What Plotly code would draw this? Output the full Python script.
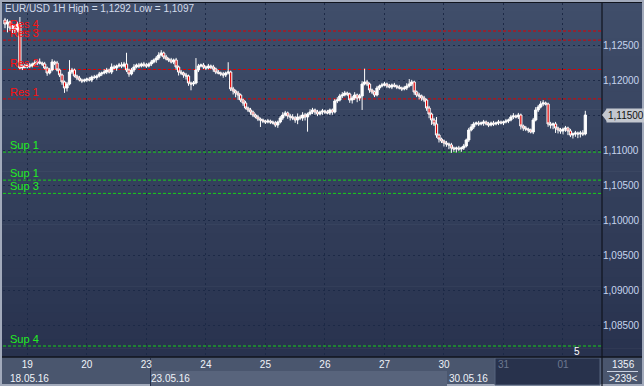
import plotly.graph_objects as go

# ---------------- data ----------------
title_text = "EUR/USD 1H High = 1,1292 Low = 1,1097"

day_ticks = [9, 33, 57, 81, 105, 129, 153, 177, 201, 225]
day_labels = ["19", "20", "23", "24", "25", "26", "27", "30", "31", "01"]
future_days = ["31", "01"]

week_labels = ["18.05.16", "23.05.16", "30.05.16"]
week_start_bars = [0, 57, 177]

price_ticks = [1.085, 1.090, 1.095, 1.100, 1.105, 1.110, 1.115, 1.120, 1.125]

first_open = 1.12857

closes = [
    # 18.05 (15:00-23:00)
    1.12800, 1.12829, 1.12743, 1.12771, 1.12714, 1.12800, 1.12172, 1.12200, 1.12186,
    # 19.05
    1.12214, 1.12200, 1.12229, 1.12243, 1.12257, 1.12243, 1.12229, 1.12172, 1.12100, 1.12143, 1.12257, 1.12243,
    1.12143, 1.12072, 1.11972, 1.11886, 1.11943, 1.12114, 1.12143, 1.12057, 1.12029, 1.12000, 1.11986, 1.12000,
    # 20.05
    1.12014, 1.12000, 1.12043, 1.12036, 1.12057, 1.12086, 1.12100, 1.12114, 1.12143, 1.12114, 1.12186, 1.12172,
    1.12200, 1.12214, 1.12200, 1.12229, 1.12143, 1.12086, 1.12143, 1.12186, 1.12214, 1.12200, 1.12229, 1.12214,
    # 23.05
    1.12200, 1.12229, 1.12257, 1.12286, 1.12314, 1.12357, 1.12386, 1.12329, 1.12300, 1.12286, 1.12257, 1.12286,
    1.12186, 1.12114, 1.12100, 1.12072, 1.12057, 1.11957, 1.11943, 1.11957, 1.12143, 1.12200, 1.12214, 1.12186,
    # 24.05
    1.12172, 1.12200, 1.12186, 1.12157, 1.12114, 1.12100, 1.12086, 1.12072, 1.12100, 1.12114, 1.11872, 1.11843,
    1.11814, 1.11786, 1.11714, 1.11672, 1.11600, 1.11572, 1.11543, 1.11500, 1.11472, 1.11443, 1.11429, 1.11414,
    # 25.05
    1.11400, 1.11414, 1.11400, 1.11386, 1.11357, 1.11400, 1.11457, 1.11500, 1.11529, 1.11486, 1.11472, 1.11457,
    1.11429, 1.11472, 1.11457, 1.11500, 1.11472, 1.11514, 1.11543, 1.11572, 1.11543, 1.11514, 1.11543, 1.11557,
    # 26.05
    1.11543, 1.11529, 1.11572, 1.11543, 1.11700, 1.11714, 1.11772, 1.11786, 1.11814, 1.11800, 1.11714, 1.11743,
    1.11786, 1.11743, 1.11772, 1.11943, 1.11972, 1.11943, 1.11857, 1.11829, 1.11786, 1.11886, 1.11914, 1.11929,
    # 27.05
    1.11943, 1.11914, 1.11900, 1.11929, 1.11914, 1.11900, 1.11886, 1.11872, 1.11886, 1.11914, 1.11943, 1.11972,
    1.11829, 1.11786, 1.11772, 1.11743, 1.11714, 1.11600, 1.11514, 1.11429, 1.11372, 1.11214, 1.11157, 1.11129,
    # 30.05
    1.11100, 1.11086, 1.11072, 1.11029, 1.11014, 1.11029, 1.11014, 1.11029, 1.11057, 1.11143, 1.11286, 1.11329,
    1.11372, 1.11386, 1.11372, 1.11386, 1.11400, 1.11372, 1.11357, 1.11386, 1.11372, 1.11386, 1.11400, 1.11386,
    # 31.05
    1.11400, 1.11414, 1.11429, 1.11472, 1.11486, 1.11472, 1.11500, 1.11343, 1.11314, 1.11300, 1.11286, 1.11257,
    1.11429, 1.11572, 1.11614, 1.11657, 1.11672, 1.11657, 1.11372, 1.11357, 1.11372, 1.11314, 1.11286, 1.11272,
    # 01.06 (00:00-09:00)
    1.11300, 1.11314, 1.11272, 1.11214, 1.11229, 1.11243, 1.11229, 1.11243, 1.11229, 1.11500,
]

# wick lengths beyond the candle body, in pips (0.0001)
upper_wick = [
    3, 4, 2, 3, 2, 3, 10, 2, 3,
    2, 3, 2, 4, 3, 5, 2, 3, 2, 3, 4, 2, 3, 2, 2, 2, 3, 17, 3, 2, 2, 3, 2, 2,
    2, 3, 2, 3, 2, 3, 2, 4, 3, 2, 5, 3, 2, 3, 4, 3, 16, 2, 3, 4, 2, 3, 2, 3,
    3, 2, 3, 2, 3, 4, 4, 2, 3, 2, 3, 2, 3, 2, 3, 2, 3, 2, 2, 3, 17, 3, 2, 3,
    2, 3, 2, 3, 2, 3, 2, 3, 2, 14, 2, 3, 2, 3, 2, 2, 3, 2, 3, 2, 2, 3, 2, 2,
    2, 3, 2, 2, 3, 2, 3, 4, 3, 2, 3, 4, 3, 5, 3, 4, 3, 2, 4, 3, 2, 3, 2, 3,
    2, 3, 2, 2, 3, 4, 3, 4, 3, 2, 2, 3, 4, 2, 3, 4, 19, 3, 2, 2, 2, 3, 2, 3,
    3, 2, 3, 2, 3, 2, 3, 2, 3, 4, 7, 3, 2, 2, 3, 2, 3, 2, 3, 2, 3, 10, 2, 2,
    2, 3, 2, 3, 2, 2, 3, 2, 3, 2, 3, 4, 3, 2, 3, 2, 3, 2, 3, 2, 3, 2, 3, 2,
    2, 3, 2, 3, 4, 2, 3, 2, 2, 3, 2, 2, 3, 4, 3, 4, 4, 2, 2, 3, 2, 3, 2, 3,
    2, 3, 2, 3, 2, 3, 2, 3, 4, 6,
]
lower_wick = [
    6, 12, 4, 8, 5, 3, 2, 3, 2,
    2, 3, 2, 2, 3, 2, 3, 2, 4, 2, 2, 3, 2, 3, 4, 7, 5, 2, 3, 2, 3, 2, 3, 2,
    3, 2, 3, 2, 3, 2, 3, 2, 3, 2, 3, 2, 4, 2, 3, 2, 3, 4, 2, 3, 2, 3, 2, 3,
    3, 2, 3, 2, 4, 3, 2, 3, 2, 3, 2, 3, 4, 5, 3, 4, 5, 4, 9, 3, 2, 3, 2, 3,
    3, 2, 3, 4, 3, 2, 3, 4, 3, 2, 3, 5, 6, 7, 3, 4, 2, 3, 4, 3, 2, 3, 10, 3,
    3, 2, 3, 2, 3, 4, 2, 3, 2, 4, 5, 3, 4, 6, 3, 4, 5, 21, 2, 3, 4, 3, 2, 4,
    3, 2, 3, 4, 2, 3, 2, 3, 2, 3, 4, 5, 3, 6, 4, 20, 2, 3, 4, 3, 3, 2, 3, 2,
    2, 3, 2, 3, 2, 3, 2, 3, 2, 3, 2, 3, 4, 3, 5, 4, 3, 4, 6, 7, 3, 4, 5, 3,
    5, 4, 6, 7, 4, 5, 3, 4, 3, 2, 3, 2, 3, 2, 3, 2, 4, 2, 3, 2, 3, 2, 3, 2,
    3, 2, 3, 2, 3, 2, 3, 5, 4, 3, 4, 2, 3, 2, 3, 2, 3, 2, 4, 5, 6, 7, 5, 4,
    5, 4, 6, 3, 5, 4, 6, 5, 3, 2,
]

level_names = ["Res 4", "Res 3", "Res 2", "Res 1", "Sup 1", "Sup 1", "Sup 3", "Sup 4"]
level_values = [1.1270, 1.1257, 1.1215, 1.1173, 1.1097, 1.1057, 1.1038, 1.0820]

corner_top = "1356"
corner_bottom = ">239<"
count_label = "5"

# ---------------- derived ----------------
n = len(closes)
assert len(upper_wick) == n and len(lower_wick) == n
bars = list(range(n))
opens = [first_open] + closes[:-1]
highs = [max(o, c) + u * 1e-4 for o, c, u in zip(opens, closes, upper_wick)]
lows = [min(o, c) - d * 1e-4 for o, c, d in zip(opens, closes, lower_wick)]


def fmt_price(v):
    return ("%.5f" % v).replace(".", ",")


last_text = fmt_price(closes[-1])
# the last-price tag replaces the axis label at the same level
price_ticktext = ["" if fmt_price(v) == last_text else fmt_price(v) for v in price_ticks]

# ---------------- geometry helpers ----------------
W, H = 644, 386
L, R, T, B = 3, 42, 3, 29
PW = W - L - R
PH = H - T - B


def fx(xpix):
    return (xpix - L) / PW


def fy(ypix):
    return (H - B - ypix) / PH


FONT = "Liberation Sans, Arial"

shapes = []
# vertical gradient background (plot + right axis panel)
top_rgb = (64, 78, 106)
bot_rgb = (40, 50, 78)
nb = 40
for k in range(nb):
    y0 = T + k * PH / nb
    y1 = T + (k + 1) * PH / nb
    t = (k + 0.5) / nb
    col = "rgb(%d,%d,%d)" % tuple(round(a + (b - a) * t) for a, b in zip(top_rgb, bot_rgb))
    shapes.append(dict(type="rect", xref="paper", yref="paper", x0=fx(2), x1=fx(642),
                       y0=fy(y1 + 0.6), y1=fy(y0), fillcolor=col, line_width=0, layer="below"))

# x-axis band
shapes.append(dict(type="rect", xref="paper", yref="paper", x0=fx(2), x1=fx(642),
                   y0=fy(384), y1=fy(357), fillcolor="#4a566e", line_width=0, layer="below"))
shapes.append(dict(type="rect", xref="paper", yref="paper", x0=fx(151), x1=fx(447),
                   y0=fy(386), y1=fy(371), fillcolor="#58647c", line_width=0, layer="below"))
shapes.append(dict(type="rect", xref="paper", yref="paper", x0=fx(495), x1=fx(600),
                   y0=fy(385), y1=fy(358), fillcolor="#28324c",
                   line=dict(color="#55627c", width=1), layer="below"))
shapes.append(dict(type="line", xref="paper", yref="paper", x0=fx(150.5), x1=fx(150.5),
                   y0=fy(386), y1=fy(358), line=dict(color="#26304a", width=1), layer="below"))
# borders
shapes.append(dict(type="line", xref="paper", yref="paper", x0=fx(2), x1=fx(642),
                   y0=fy(2.5), y1=fy(2.5), line=dict(color="#10141e", width=1)))
shapes.append(dict(type="line", xref="paper", yref="paper", x0=fx(2), x1=fx(642),
                   y0=fy(357), y1=fy(357), line=dict(color="#10141e", width=1.5)))
shapes.append(dict(type="line", xref="paper", yref="paper", x0=fx(602), x1=fx(602),
                   y0=fy(386), y1=fy(2.5), line=dict(color="#10141e", width=1.2)))
shapes.append(dict(type="line", xref="paper", yref="paper", x0=fx(607), x1=fx(638),
                   y0=fy(371.5), y1=fy(371.5), line=dict(color="#c8d0e0", width=1)))

annotations = []
# support / resistance levels
for name, val in zip(level_names, level_values):
    is_res = name.startswith("Res")
    col = "#dd0000" if is_res else "#18d018"
    shapes.append(dict(type="line", xref="paper", yref="y", x0=0, x1=1, y0=val, y1=val,
                       line=dict(color=col, width=1, dash="3px,2px"), layer="below"))
    annotations.append(dict(x=fx(8), y=val, xref="paper", yref="y", text=name, showarrow=False,
                            xanchor="left", yanchor="bottom", yshift=-1,
                            font=dict(family=FONT, size=11,
                                      color="#ff1010" if is_res else "#22ee22")))

# title
annotations.append(dict(x=fx(3), y=fy(8), xref="paper", yref="paper", text=title_text,
                        showarrow=False, xanchor="left", yanchor="middle",
                        font=dict(family=FONT, size=10, color="#d4dcec")))

# week labels
for lab, b in zip(week_labels, week_start_bars):
    annotations.append(dict(x=b, y=fy(378.5), xref="x", yref="paper", text=lab, showarrow=False,
                            xanchor="left", yanchor="middle", xshift=3,
                            font=dict(family=FONT, size=10, color="#eef2f8")))

# last price tag
annotations.append(dict(x=fx(606), y=closes[-1], xref="paper", yref="y", text=last_text,
                        showarrow=False, xanchor="left", yanchor="middle", bgcolor="#c3c7cf",
                        borderpad=1, font=dict(family=FONT, size=10, color="#111111")))
shapes.append(dict(type="path", xref="paper", yref="y", xsizemode="pixel", xanchor=fx(602),
                   ysizemode="pixel", yanchor=closes[-1],
                   path="M 0 0 L 5 6.5 L 5 -6.5 Z", fillcolor="#c3c7cf", line_width=0))

# corner box texts and bar counter
annotations.append(dict(x=fx(623), y=fy(364), xref="paper", yref="paper", text=corner_top,
                        showarrow=False, xanchor="center", yanchor="middle",
                        font=dict(family=FONT, size=10, color="#f0f4fa")))
annotations.append(dict(x=fx(623), y=fy(378.5), xref="paper", yref="paper", text=corner_bottom,
                        showarrow=False, xanchor="center", yanchor="middle",
                        font=dict(family=FONT, size=10, color="#f0f4fa")))
annotations.append(dict(x=fx(577), y=fy(351), xref="paper", yref="paper", text=count_label,
                        showarrow=False, xanchor="center", yanchor="middle",
                        font=dict(family=FONT, size=10, color="#ffffff")))

ticktext = [
    ("<span style='color:#6c7891'>%s</span>" % d) if d in future_days else d for d in day_labels
]

fig = go.Figure(go.Candlestick(
    x=bars, open=opens, high=highs, low=lows, close=closes,
    increasing=dict(line=dict(color="#ffffff", width=1), fillcolor="#ffffff"),
    decreasing=dict(line=dict(color="#ffffff", width=1), fillcolor="#e00000"),
    whiskerwidth=0, hoverinfo="skip", showlegend=False,
))

fig.update_layout(
    width=W, height=H,
    margin=dict(l=L, r=R, t=T, b=B, pad=0),
    paper_bgcolor="#a2aabb",
    plot_bgcolor="rgba(0,0,0,0)",
    separators=",.",
    boxgap=0.1,
    boxgroupgap=0,
    shapes=shapes,
    annotations=annotations,
    showlegend=False,
    xaxis=dict(
        range=[-0.81, 240.73], rangeslider=dict(visible=False),
        tickmode="array", tickvals=day_ticks, ticktext=ticktext,
        showgrid=True, gridcolor="#1c2946", gridwidth=1, griddash="2px,3px",
        zeroline=False, showline=False, ticks="",
        tickfont=dict(family=FONT, size=10, color="#eef2f8"),
        fixedrange=True,
    ),
    yaxis=dict(
        side="right", range=[1.08043, 1.13100],
        tickmode="array", tickvals=price_ticks, ticktext=price_ticktext,
        showgrid=True, gridcolor="#1c2946", gridwidth=1, griddash="2px,3px",
        zeroline=False, showline=False, ticks="",
        tickfont=dict(family=FONT, size=10, color="#c6d4ee"),
        fixedrange=True,
    ),
)

fig.write_html("out.html")
